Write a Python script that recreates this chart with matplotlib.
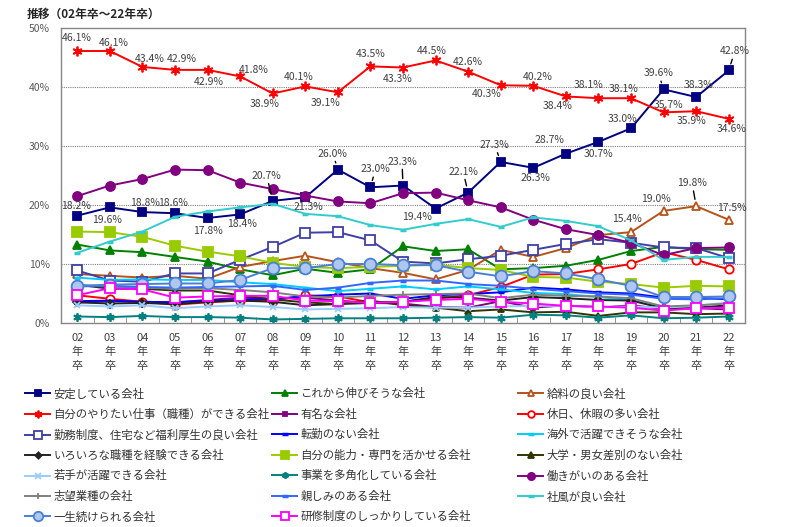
"""
就職先企業選択のポイント 推移 (02年卒～22年卒)
"""
import matplotlib
matplotlib.use("Agg")
import matplotlib.pyplot as plt

plt.rcParams["font.family"] = ["Noto Sans CJK JP", "DejaVu Sans"]

years = ["02", "03", "04", "05", "06", "07", "08", "09", "10", "11", "12",
         "13", "14", "15", "16", "17", "18", "19", "20", "21", "22"]

antei = [18.2, 19.6, 18.8, 18.6, 17.8, 18.4, 20.7, 21.3, 26.0, 23.0, 23.3,
         19.4, 22.1, 27.3, 26.3, 28.7, 30.7, 33.0, 39.6, 38.3, 42.8]
yaritai = [46.1, 46.1, 43.4, 42.9, 42.9, 41.8, 38.9, 40.1, 39.1, 43.5, 43.3,
           44.5, 42.6, 40.3, 40.2, 38.4, 38.1, 38.1, 35.7, 35.9, 34.6]
kyuryo = [8.3, 8.0, 7.7, 8.0, 7.5, 9.5, 10.5, 11.4, 10.3, 9.3, 8.5,
          7.4, 9.0, 12.4, 11.2, 12.7, 14.9, 15.4, 19.0, 19.8, 17.5]
kyujitsu = [4.7, 4.1, 3.6, 3.1, 3.5, 3.8, 3.8, 4.7, 4.5, 3.5, 3.6,
            4.1, 4.7, 6.1, 8.2, 8.3, 9.1, 10.0, 12.0, 10.7, 9.1]
fukuri = [8.9, 7.2, 7.0, 8.4, 8.4, 10.7, 12.9, 15.3, 15.4, 14.0, 10.4,
          10.1, 10.8, 11.4, 12.4, 13.4, 14.2, 13.6, 12.8, 12.7, 11.0]
iroiro = [3.5, 3.3, 3.4, 3.2, 3.6, 3.8, 3.6, 3.0, 3.2, 3.4, 3.6,
          4.4, 4.3, 3.8, 4.4, 4.2, 3.9, 3.8, 2.5, 2.6, 3.0]
wakate = [3.0, 2.8, 3.0, 2.5, 2.8, 3.0, 2.7, 2.3, 2.4, 2.5, 2.7,
          2.6, 2.6, 2.8, 2.9, 2.9, 2.7, 2.8, 2.6, 2.9, 3.5]
shibou = [6.4, 6.2, 6.0, 5.8, 5.9, 5.6, 5.2, 4.5, 4.3, 4.6, 4.8,
          4.9, 5.0, 4.2, 4.8, 4.6, 4.5, 4.2, 2.8, 3.0, 3.3]
issho = [6.3, 6.5, 6.6, 6.7, 6.7, 7.3, 9.3, 9.3, 10.0, 10.0, 9.8,
         9.8, 8.7, 7.9, 8.8, 8.4, 7.4, 6.3, 4.4, 4.4, 4.5]
korekara = [13.3, 12.3, 12.0, 11.2, 10.4, 9.1, 8.1, 9.2, 8.5, 9.1, 13.0,
            12.2, 12.5, 9.1, 9.3, 9.7, 10.7, 12.2, 12.9, 12.5, 12.4]
yumei = [3.5, 3.7, 3.6, 3.5, 3.9, 4.3, 4.1, 4.3, 3.8, 3.4, 3.3,
         2.7, 2.6, 3.7, 2.6, 3.0, 2.6, 3.0, 2.4, 2.5, 2.3]
tenkin = [3.7, 3.8, 3.6, 3.5, 3.8, 3.9, 4.1, 4.5, 4.8, 5.0, 4.1,
          4.7, 4.9, 5.2, 6.0, 5.7, 5.2, 5.0, 4.3, 4.3, 4.0]
nouryoku = [15.5, 15.4, 14.6, 13.1, 12.1, 11.3, 10.2, 9.5, 9.3, 9.5, 9.7,
            9.9, 9.3, 9.0, 7.8, 7.7, 7.0, 6.6, 6.0, 6.3, 6.2]
takakuka = [1.1, 1.0, 1.2, 1.0, 1.0, 0.9, 0.6, 0.7, 0.8, 0.8, 0.8,
            0.9, 1.0, 0.9, 1.4, 1.3, 0.9, 1.3, 0.8, 0.9, 1.1]
shitashimi = [6.2, 6.3, 6.1, 6.0, 6.1, 6.2, 6.3, 5.6, 6.0, 6.8, 7.2,
              7.2, 6.6, 6.3, 5.8, 5.4, 5.0, 4.8, 4.1, 4.0, 4.2]
kenshu = [4.7, 5.9, 5.7, 4.3, 4.5, 4.6, 4.6, 3.8, 3.7, 3.4, 3.6,
          3.9, 4.1, 3.6, 3.3, 2.9, 2.8, 2.6, 2.1, 2.5, 2.6]
kaigai = [7.7, 7.3, 7.4, 7.3, 7.3, 6.9, 6.6, 6.0, 5.4, 5.8, 6.2,
          5.7, 6.2, 5.7, 5.1, 4.9, 4.4, 3.9, 2.6, 2.6, 2.8]
daigaku = [6.5, 5.8, 5.8, 5.5, 5.5, 4.7, 4.0, 3.5, 3.2, 3.8, 3.0,
           2.6, 2.0, 2.3, 1.8, 1.9, 1.2, 1.8, 1.8, 1.5, 1.6]
hatarakigai = [21.5, 23.3, 24.4, 26.0, 25.9, 23.8, 22.7, 21.6, 20.6, 20.3, 22.0,
               22.1, 20.8, 19.6, 17.5, 15.9, 14.9, 13.6, 11.5, 12.7, 12.8]
shafu = [11.9, 13.8, 15.5, 18.0, 18.9, 19.6, 20.2, 18.5, 18.1, 16.6, 15.8,
         16.8, 17.6, 16.3, 17.9, 17.3, 16.4, 14.0, 10.7, 11.2, 11.2]

ASTER = (6, 2, 0)

# (label, values, line colour, marker, marker size, face colour)  -- legend order, row by row
series = [
    ("安定している会社", antei, "#000080", "s", 6, "#000080"),
    ("これから伸びそうな会社", korekara, "#008000", "^", 6, "#008000"),
    ("給料の良い会社", kyuryo, "#B5531A", "^", 6, "white"),
    ("自分のやりたい仕事（職種）ができる会社", yaritai, "#FF0000", ASTER, 7, "#FF0000"),
    ("有名な会社", yumei, "#800080", "s", 3.5, "#800080"),
    ("休日、休暇の多い会社", kyujitsu, "#FF0000", "o", 6, "white"),
    ("勤務制度、住宅など福利厚生の良い会社", fukuri, "#3F3FA8", "s", 6.5, "white"),
    ("転勤のない会社", tenkin, "#0000FF", "_", 5, "#0000FF"),
    ("海外で活躍できそうな会社", kaigai, "#00CCFF", "_", 5, "#00CCFF"),
    ("いろいろな職種を経験できる会社", iroiro, "#222222", "D", 4, "#222222"),
    ("自分の能力・専門を活かせる会社", nouryoku, "#99CC00", "s", 7, "#99CC00"),
    ("大学・男女差別のない会社", daigaku, "#333300", "^", 5, "#333300"),
    ("若手が活躍できる会社", wakate, "#99CCFF", "x", 5, "#99CCFF"),
    ("事業を多角化している会社", takakuka, "#008080", ASTER, 6, "#008080"),
    ("働きがいのある会社", hatarakigai, "#800080", "o", 6.5, "#800080"),
    ("志望業種の会社", shibou, "#808080", "+", 6, "#808080"),
    ("親しみのある会社", shitashimi, "#3366FF", "_", 5, "#3366FF"),
    ("社風が良い会社", shafu, "#33CCCC", "_", 5, "#33CCCC"),
    ("一生続けられる会社", issho, "#4A7FD6", "o", 8.5, "#AFC6EE"),
    ("研修制度のしっかりしている会社", kenshu, "#FF00FF", "s", 7, "white"),
]

# data label offsets in pixels (dx, dy); True = leader line
antei_off = [(-1, 10, False), (-3, -13, False), (3, 9, False), (-2, 10, False),
             (0, -13, False), (2, -10, False), (-6, 25, True), (3, -10, False),
             (-5, 16, True), (5, 18, True), (-1, 24, True), (-19, -8, False),
             (-5, 21, True), (-6, 17, True), (2, -10, False), (-16, 14, False),
             (0, -12, False), (-9, 9, False), (-5, 16, True), (2, 12, False),
             (6, 19, True)]
yaritai_off = [(-1, 13), (4, 8), (7, 8), (7, 11), (1, -12), (14, 6), (-8, -11),
               (-7, 9), (-12, -11), (0, 12), (-5, -11), (-4, 9), (0, 10), (-14, -9),
               (4, 9), (-8, -10), (-10, 13), (-7, 9), (5, 7), (-5, -10), (3, -10)]
kyuryo_lab = {17: (-4, 13, False), 18: (-8, 12, False), 19: (-4, 23, True), 20: (3, 12, False)}

fig = plt.figure(figsize=(8, 5.27), dpi=100)
ax = fig.add_axes([61 / 800, 1 - 323 / 527, 684 / 800, 295 / 527])

x = list(range(len(years)))
for label, vals, col, mk, ms, fc in series:
    mew = 2.5 if mk == "_" else 1.3
    ax.plot(x, vals, color=col, lw=1.4, marker=mk, markersize=ms,
            markerfacecolor=fc, markeredgecolor=col, markeredgewidth=mew,
            label=label, clip_on=False)

lab_kw = dict(textcoords="offset pixels", ha="center", va="center",
              fontsize=7.5, color="#404040")
for i, (dx, dy, lead) in enumerate(antei_off):
    ap = dict(arrowstyle="-", color="black", lw=1, shrinkA=0, shrinkB=5) if lead else None
    ax.annotate(f"{antei[i]:.1f}%", (i, antei[i]), xytext=(dx, dy), arrowprops=ap, **lab_kw)
for i, (dx, dy) in enumerate(yaritai_off):
    ax.annotate(f"{yaritai[i]:.1f}%", (i, yaritai[i]), xytext=(dx, dy), **lab_kw)
for i, (dx, dy, lead) in kyuryo_lab.items():
    ap = dict(arrowstyle="-", color="black", lw=1, shrinkA=0, shrinkB=5) if lead else None
    ax.annotate(f"{kyuryo[i]:.1f}%", (i, kyuryo[i]), xytext=(dx, dy), arrowprops=ap, **lab_kw)

ax.set_xlim(-0.5, len(years) - 0.5)
ax.set_ylim(0, 50)
ax.set_yticks(range(0, 51, 10))
ax.set_yticklabels([f"{v}%" for v in range(0, 51, 10)], fontsize=7.5, color="#595959")
ax.tick_params(axis="y", length=0, pad=8)
ax.set_xticks(x)
ax.set_xticklabels([f"{y}\n年\n卒" for y in years], fontsize=8, color="#404040",
                   linespacing=1.5)
ax.tick_params(axis="x", length=0, pad=7)
ax.set_xticks([i + 0.5 for i in range(len(years) - 1)], minor=True)
ax.tick_params(axis="x", which="minor", direction="in", length=4, color="#868686")
for yv in range(10, 50, 10):
    ax.axhline(yv, color="#7F7F7F", lw=0.8, ls=(0, (1, 1)), zorder=0)
for sp in ax.spines.values():
    sp.set_color("#868686")
    sp.set_linewidth(1)

fig.text(27 / 800, 1 - 14 / 527, "推移（02年卒～22年卒）", fontsize=8.5,
         fontweight="bold", color="#262626", va="center", ha="left")

handles, labels = ax.get_legend_handles_labels()
col_x = [25, 272, 518]
for c in range(3):
    idx = list(range(c, len(handles), 3))
    fig.legend([handles[i] for i in idx], [labels[i] for i in idx],
               loc="upper left", bbox_to_anchor=(col_x[c] / 800, 1 - 388 / 527),
               frameon=False, fontsize=8.2, handlelength=2.2, handletextpad=0.3,
               borderpad=0, borderaxespad=0, labelspacing=0.82, markerscale=0.8,
               labelcolor="#333333")

fig.savefig("out.png", dpi=100)
